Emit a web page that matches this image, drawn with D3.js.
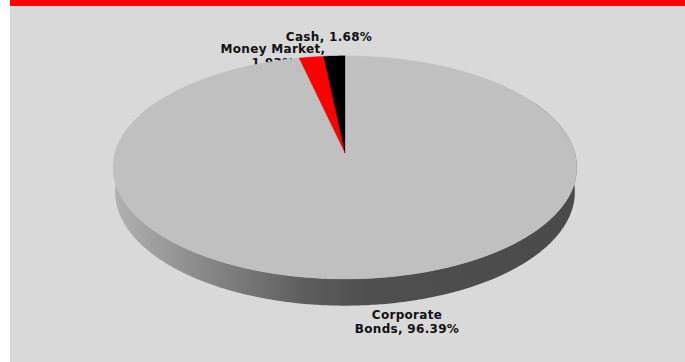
<!DOCTYPE html>
<html>
<head>
<meta charset="utf-8">
<script src="https://cdn.jsdelivr.net/npm/d3@7"></script>
<style>
  html, body { margin: 0; padding: 0; background: #ffffff; }
  svg { display: block; }
  .lbl { font-family: "DejaVu Sans", sans-serif; font-size: 12px; font-weight: bold; letter-spacing: 0.3px; fill: #111111; }
</style>
</head>
<body>
<div id="chart"></div>
<script>
// chart data
var names = ["Corporate Bonds", "Money Market", "Cash"];
var values = [96.39, 1.93, 1.68];
var topColors = ["#c0c0c0", "#ff0000", "#000000"];
var wallColors = ["url(#wallGrad)", "#b00000", "#000000"];
// words kept on the first label line (null = one line)
var breakAfter = [1, 2, null];

var svgWidth = 685;
var svgHeight = 362;

var svg = d3.select("#chart")
    .append("svg")
    .attr("width", svgWidth)
    .attr("height", svgHeight);

// background panel and red header strip
svg.append("rect")
    .attr("x", 10).attr("y", 0)
    .attr("width", svgWidth - 10).attr("height", svgHeight)
    .attr("fill", "#d9d9d9");
svg.append("rect")
    .attr("x", 10).attr("y", 0)
    .attr("width", svgWidth - 10).attr("height", 6)
    .attr("fill", "#ff0000");

// side gradient
var defs = svg.append("defs");
var grad = defs.append("linearGradient")
    .attr("id", "wallGrad")
    .attr("gradientUnits", "userSpaceOnUse")
    .attr("x1", 113).attr("y1", 0).attr("x2", 577).attr("y2", 0);
[[0, "#b2b2b2"], [0.18, "#8c8c8c"], [0.42, "#5c5c5c"], [0.55, "#4f4f4f"], [1, "#4a4a4a"]]
    .forEach(function(s) {
        grad.append("stop").attr("offset", s[0]).attr("stop-color", s[1]);
    });

// simple perspective camera for the 3d pie
var cam = {
    cx: 345, cy: 153,
    F: 1568, D: 6.82,
    tilt: 28.5 * Math.PI / 180,
    depth: 0.1217
};
var sinT = Math.sin(cam.tilt), cosT = Math.cos(cam.tilt);

function project(a, r, h) {
    var X = r * Math.sin(a);
    var Z = r * Math.cos(a);
    var yc = Z * sinT + h * cosT;
    var zc = cam.D + Z * cosT - h * sinT;
    return [cam.cx + cam.F * X / zc, cam.cy - cam.F * yc / zc];
}

function arcPoints(a0, a1, h) {
    var n = Math.max(2, Math.ceil(Math.abs(a1 - a0) / 0.01));
    var pts = [];
    for (var i = 0; i <= n; i++) {
        pts.push(project(a0 + (a1 - a0) * i / n, 1, h));
    }
    return pts;
}

var pie = d3.pie().sort(null).value(function(d) { return d; });
var slices = pie(values);
var line = d3.line();

// labels go under the pie (the pie overlaps "1.93%" in the original)
var labelPos = [[407, 319], [273, 53], [329, 41]];
slices.forEach(function(s, i) {
    var full = names[i] + ", " + values[i].toFixed(2) + "%";
    var words = full.split(" ");
    var lines = breakAfter[i] == null ? [full]
        : [words.slice(0, breakAfter[i]).join(" "), words.slice(breakAfter[i]).join(" ")];
    var t = svg.append("text")
        .attr("class", "lbl")
        .attr("text-anchor", "middle")
        .attr("x", labelPos[i][0])
        .attr("y", labelPos[i][1]);
    lines.forEach(function(l, k) {
        t.append("tspan")
            .attr("x", labelPos[i][0])
            .attr("dy", k === 0 ? 0 : 13.5)
            .text(l);
    });
});

// front walls (angles facing the viewer)
var frontStart = Math.PI / 3, frontEnd = 5 * Math.PI / 3;
slices.forEach(function(s, i) {
    var a0 = Math.max(s.startAngle, frontStart);
    var a1 = Math.min(s.endAngle, frontEnd);
    if (a1 <= a0) return;
    var pts = arcPoints(a0, a1, 0).concat(arcPoints(a1, a0, -cam.depth));
    svg.append("path")
        .attr("d", line(pts) + "Z")
        .attr("fill", wallColors[i]);
});

// top faces
slices.forEach(function(s, i) {
    var pts = [project(0, 0, 0)].concat(arcPoints(s.startAngle, s.endAngle, 0));
    svg.append("path")
        .attr("d", line(pts) + "Z")
        .attr("fill", topColors[i])
        .attr("stroke", topColors[i])
        .attr("stroke-width", 0.3);
});
</script>
</body>
</html>
